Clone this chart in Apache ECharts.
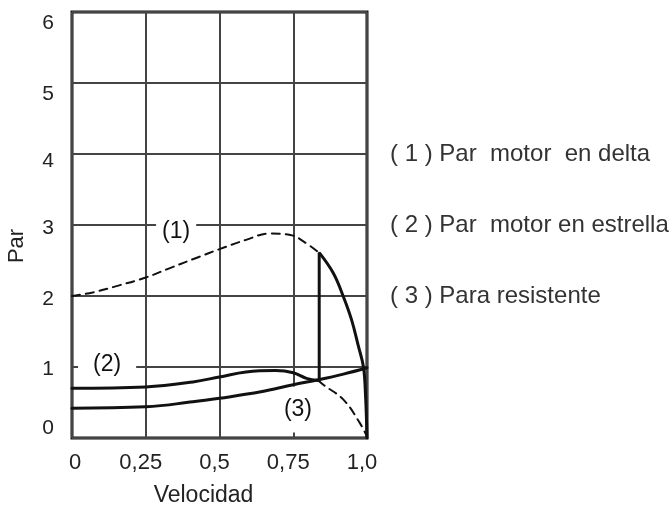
<!DOCTYPE html>
<html>
<head>
<meta charset="utf-8">
<script src="https://cdn.jsdelivr.net/npm/echarts@6/dist/echarts.min.js"></script>
<style>
  html, body { margin: 0; padding: 0; background: #fff; }
  #chart { width: 672px; height: 513px; }
</style>
</head>
<body>
<div id="chart"></div>
<script>
// Ejes
const ticksVelocidad = [0, 0.25, 0.5, 0.75, 1.0];
const etiquetasVelocidad = ['0', '0,25', '0,5', '0,75', '1,0'];
const ticksPar = [0, 1, 2, 3, 4, 5, 6];

// (1) Par motor en delta: tramo de arranque (no usado, discontinuo)
const deltaVel = [0, 0.07, 0.16, 0.25, 0.33, 0.43, 0.5, 0.59, 0.67, 0.74, 0.795, 0.84];
const deltaPar = [2.0, 2.05, 2.15, 2.26, 2.39, 2.55, 2.66, 2.79, 2.88, 2.86, 2.74, 2.60];
// (1) Par motor en delta: tramo tras la conmutación (continuo)
const deltaFinVel = [0.84, 0.886, 0.92, 0.948, 0.971, 0.988, 0.995, 1.0];
const deltaFinPar = [2.60, 2.32, 1.99, 1.66, 1.29, 1.0, 0.6, 0.0];

// (2) Par motor en estrella: tramo utilizado (continuo)
const estrellaVel = [0, 0.25, 0.41, 0.5, 0.59, 0.69, 0.75, 0.795, 0.835];
const estrellaPar = [0.70, 0.72, 0.79, 0.86, 0.93, 0.95, 0.92, 0.84, 0.81];
// (2) Par motor en estrella: resto de la curva (discontinuo)
const estrellaFinVel = [0.835, 0.852, 0.92, 0.976, 1.0];
const estrellaFinPar = [0.81, 0.75, 0.54, 0.21, 0.02];

// (3) Par resistente
const resistVel = [0, 0.25, 0.41, 0.5, 0.64, 0.75, 0.835, 0.92, 1.0];
const resistPar = [0.42, 0.44, 0.51, 0.56, 0.65, 0.75, 0.82, 0.90, 0.99];

// Salto estrella -> delta
const saltoVel = [0.838, 0.838];
const saltoPar = [2.6, 0.81];

// Rótulos sobre las curvas
const rotulos = ['(1)', '(2)', '(3)'];
const rotulosVel = [0.353, 0.119, 0.766];
const rotulosPar = [2.90, 1.03, 0.40];

// Leyenda a la derecha
const leyenda = ['( 1 ) Par  motor  en delta', '( 2 ) Par  motor en estrella', '( 3 ) Para resistente'];
const leyendaPar = [4, 3, 2];

const zip = (xs, ys) => xs.map((x, i) => [x, ys[i]]);
const FONT = '"Liberation Sans", Arial, sans-serif';

const chart = echarts.init(document.getElementById('chart'), null, { renderer: 'canvas' });

const lineBase = (data, dashed, width) => ({
  type: 'line',
  data,
  smooth: 0.4,
  showSymbol: false,
  symbol: 'none',
  z: 3,
  silent: true,
  lineStyle: { color: '#111', width: width, type: dashed ? [8, 6] : 'solid', cap: 'round' }
});

const labelPads = [[0, 6], [0, 15], [22, 4, 1, 4]];

// Desplazamientos tipográficos de los números de los ejes
const txt = { fontFamily: FONT, color: '#222' };
const richY = {
  p6: Object.assign({ fontSize: 21, padding: [22, 0, 0, 0] }, txt),
  p5: Object.assign({ fontSize: 21, padding: [22, 0, 0, 0] }, txt),
  p4: Object.assign({ fontSize: 21, padding: [14, 0, 0, 0] }, txt),
  p3: Object.assign({ fontSize: 21, padding: [6, 0, 0, 0] }, txt),
  p2: Object.assign({ fontSize: 21, padding: [6, 0, 0, 0] }, txt),
  p1: Object.assign({ fontSize: 21, padding: [4, 0, 0, 0] }, txt),
  p0: Object.assign({ fontSize: 21, padding: [0, 0, 20, 0] }, txt)
};
const richX = {
  x0: Object.assign({ fontSize: 22, padding: [0, 0, 0, 6] }, txt),
  xs: Object.assign({ fontSize: 22, padding: [0, 10, 0, 0] }, txt)
};

const option = {
  animation: false,
  backgroundColor: '#fff',
  grid: {
    left: 72, right: 305, top: 12, bottom: 75,
    show: true, borderColor: '#111', borderWidth: 3, backgroundColor: 'transparent'
  },
  xAxis: {
    type: 'value', min: 0, max: 1, interval: 0.25,
    name: 'Velocidad', nameLocation: 'middle', nameGap: 46,
    nameTextStyle: { fontFamily: FONT, fontSize: 23, color: '#222', padding: [0, 32, 0, 0] },
    axisLine: { show: false }, axisTick: { show: false },
    axisLabel: {
      margin: 14, fontFamily: FONT, fontSize: 22, color: '#222', rich: richX,
      formatter: v => {
        const i = ticksVelocidad.indexOf(Math.round(v * 100) / 100);
        if (i < 0) return '';
        return (i === 0 ? '{x0|' : '{xs|') + etiquetasVelocidad[i] + '}';
      }
    },
    splitLine: { show: true, lineStyle: { color: '#444', width: 2 } }
  },
  yAxis: {
    type: 'value', min: 0, max: 6, interval: 1,
    name: 'Par', nameLocation: 'middle', nameGap: 44, nameRotate: 90,
    nameTextStyle: { fontFamily: FONT, fontSize: 22, color: '#222', padding: [0, 42, 0, 0] },
    axisLine: { show: false }, axisTick: { show: false },
    axisLabel: {
      margin: 18, fontFamily: FONT, fontSize: 21, color: '#222', rich: richY,
      formatter: v => ticksPar.includes(v) ? '{p' + v + '|' + v + '}' : ''
    },
    splitLine: { show: true, lineStyle: { color: '#444', width: 2 } }
  },
  series: [
    {
      type: 'scatter', z: 1, silent: true, symbolSize: 1,
      itemStyle: { color: '#fff' },
      data: rotulos.map((t, i) => ({
        value: [rotulosVel[i], rotulosPar[i]], name: t,
        label: { padding: labelPads[i] }
      })),
      label: {
        show: true, position: 'inside', formatter: p => p.name,
        fontFamily: FONT, fontSize: 23, color: '#111', opacity: 1,
        textBorderWidth: 0, backgroundColor: '#fff'
      }
    },
    lineBase(zip(deltaVel, deltaPar), true, 2),
    lineBase(zip(deltaFinVel, deltaFinPar), false, 3),
    lineBase(zip(estrellaVel, estrellaPar), false, 3),
    lineBase(zip(estrellaFinVel, estrellaFinPar), true, 2),
    lineBase(zip(resistVel, resistPar), false, 3),
    Object.assign(lineBase(zip(saltoVel, saltoPar), false, 3), { smooth: false })
  ]
};

chart.setOption(option);

// Leyenda de texto alineada con las líneas de par 4, 3 y 2
const graphic = leyenda.map((t, i) => {
  const y = chart.convertToPixel({ gridIndex: 0 }, [0, leyendaPar[i]])[1];
  return {
    type: 'text', x: 390, y: y, silent: true,
    style: { text: t, fill: '#333', font: '24px ' + FONT, verticalAlign: 'middle', align: 'left' }
  };
});
chart.setOption({ graphic });
</script>
</body>
</html>
